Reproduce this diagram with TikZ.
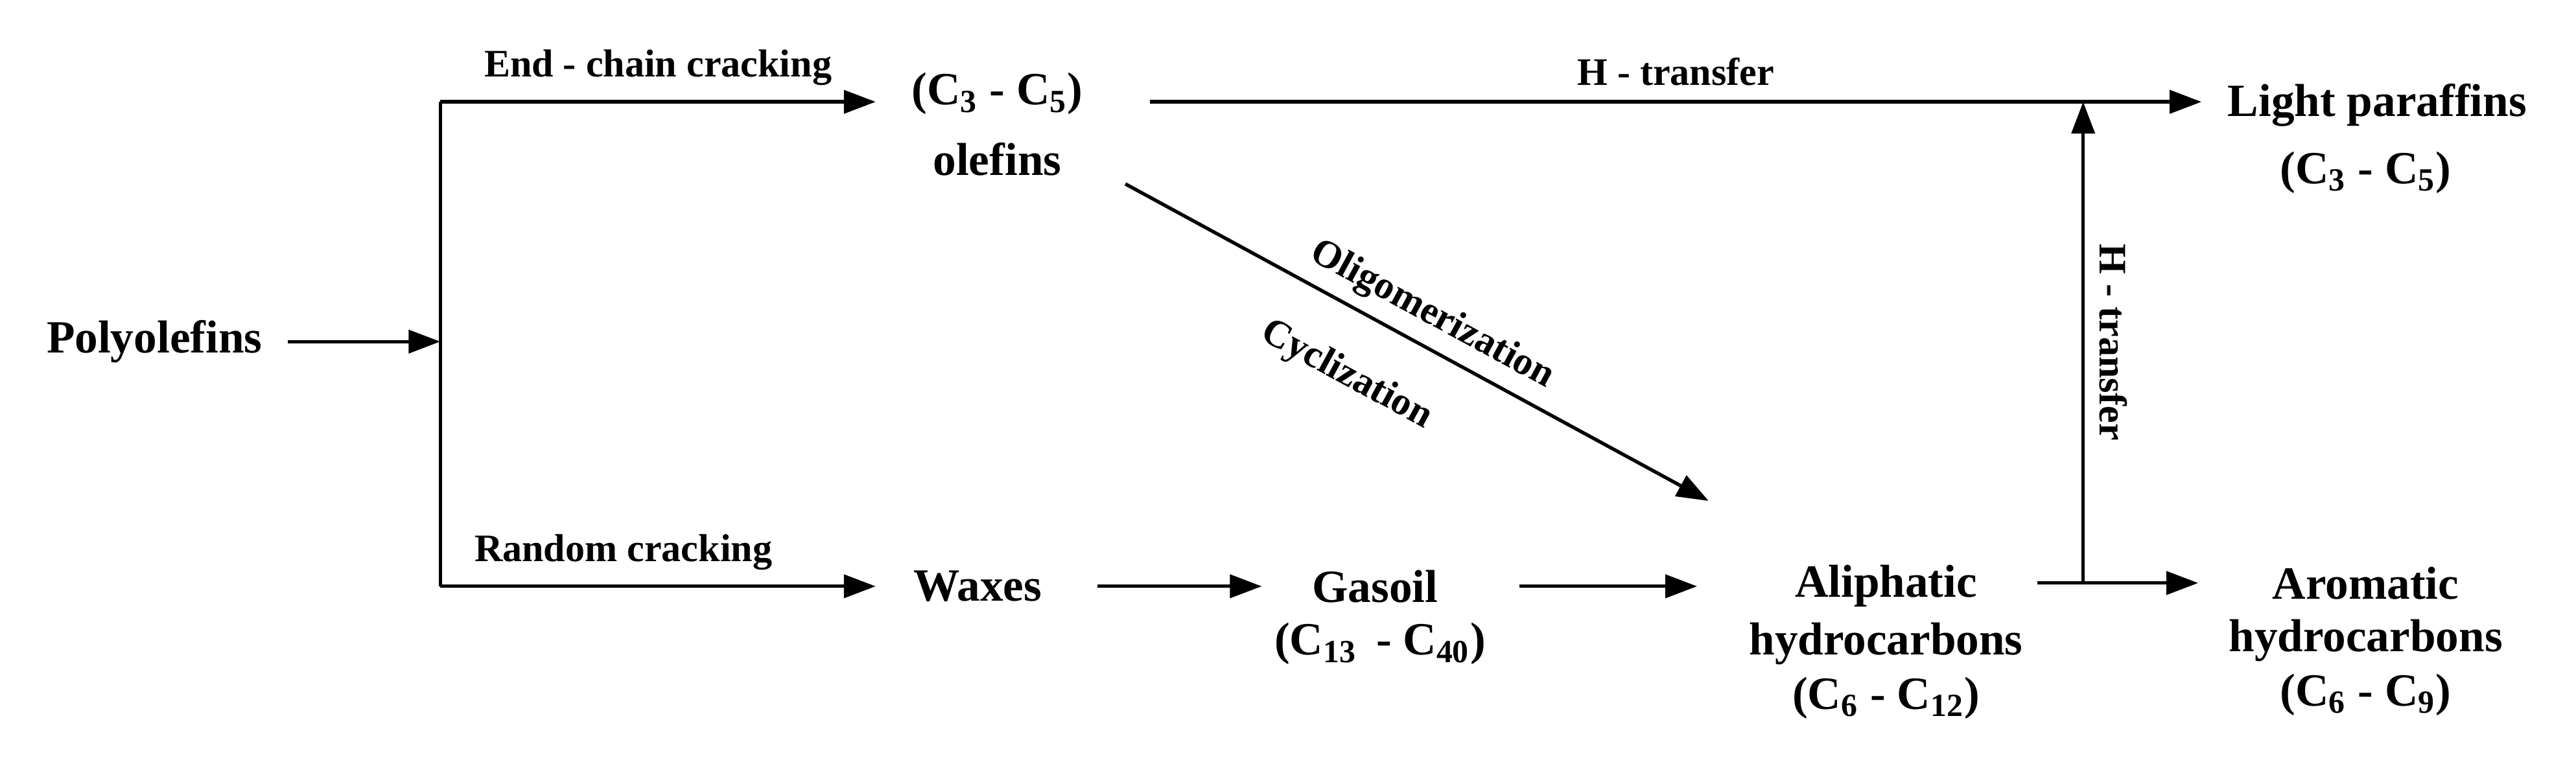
\documentclass[tikz,border=0pt]{standalone}
\usepackage{fontspec}
\setmainfont{Liberation Serif}
\usetikzlibrary{arrows.meta}
\begin{document}
\begin{tikzpicture}[x=0.02cm,y=-0.02cm,
  lbl/.style={font=\bfseries\fontsize{16}{18}\selectfont,inner sep=1pt,align=center},
  sm/.style={font=\bfseries\fontsize{13.5}{15}\selectfont,inner sep=1pt},
  ln/.style={line width=1.2pt},
  ar/.style={line width=1.2pt,-{Triangle[length=11pt,width=8pt]}}]
\useasboundingbox (0,0) rectangle (1568,464);
\node[lbl] (poly) at (94,208) {Polyolefins};
\coordinate (pe) at (175,208);
\coordinate (vm) at (268,208);
\coordinate (vt) at (268,62);
\coordinate (vb) at (268,357);
\coordinate (te) at (533,62);
\coordinate (be) at (533,357);
\draw[ar] (pe) -- (vm);
\draw[ln] (vt) -- (vb);
\draw[ar] (vt) -- node[sm,above=4pt] {End - chain cracking} (te);
\draw[ar] (vb) -- node[sm,above=4pt,xshift=-12pt] {Random cracking} (be);
\node[lbl] (c35) at (607,57) {(C\textsubscript{3} - C\textsubscript{5})};
\node[lbl] (olef) at (607,97) {olefins};
\coordinate (hs) at (700,62);
\coordinate (he) at (1340,62);
\draw[ar] (hs) -- node[sm,above=4pt] {H - transfer} (he);
\node[lbl] (lp) at (1447,64) {Light paraffins};
\node[lbl] (lpc) at (1440,105) {(C\textsubscript{3} - C\textsubscript{5})};
\coordinate (ds) at (685,112);
\coordinate (de) at (1040,305);
\draw[ar] (ds) -- node[sm,sloped,above=3pt,pos=0.5] {Oligomerization} node[sm,sloped,below=14pt,pos=0.43] {Cyclization} (de);
\node[lbl] (wax) at (595,357) {Waxes};
\coordinate (w1) at (668,357);
\coordinate (w2) at (768,357);
\draw[ar] (w1) -- (w2);
\node[lbl] (gas) at (837,357) {Gasoil};
\node[lbl] (gasc) at (840,392) {(C\textsubscript{13}\, - C\textsubscript{40})};
\coordinate (g1) at (925,357);
\coordinate (g2) at (1033,357);
\draw[ar] (g1) -- (g2);
\node[lbl] (ali) at (1148,357) {Aliphatic};
\node[lbl] (alih) at (1148,392) {hydrocarbons};
\node[lbl] (alic) at (1148,425) {(C\textsubscript{6} - C\textsubscript{12})};
\coordinate (a1) at (1240,355);
\coordinate (aj) at (1268,355);
\coordinate (a2) at (1338,355);
\coordinate (up) at (1268,62);
\draw[ar] (a1) -- (a2);
\draw[ar] (aj) -- node[sm,rotate=-90,above=4pt] {H - transfer} (up);
\node[lbl] (aro) at (1440,355) {Aromatic};
\node[lbl] (aroh) at (1440,390) {hydrocarbons};
\node[lbl] (aroc) at (1440,423) {(C\textsubscript{6} - C\textsubscript{9})};
\end{tikzpicture}
\end{document}
